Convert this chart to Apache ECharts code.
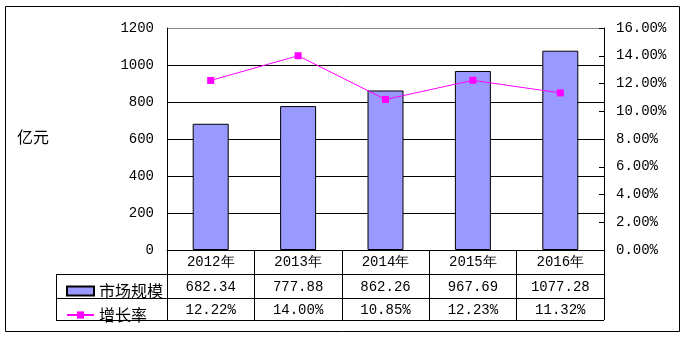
<!DOCTYPE html>
<html><head><meta charset="utf-8">
<script src="https://cdn.jsdelivr.net/npm/echarts@6/dist/echarts.min.js"></script>
<style>html,body{margin:0;padding:0;background:#fff}#c{width:686px;height:338px}</style>
</head><body><div id="c"></div>
<script>
var categories = ['2012年','2013年','2014年','2015年','2016年'];
var marketSize = [682.34, 777.88, 862.26, 967.69, 1077.28];
var growthRate = [12.22, 14.00, 10.85, 12.23, 11.32];
var marketName = '市场规模';
var growthName = '增长率';
var unitName = '亿元';

var MONO = '"Liberation Mono", monospace';
var CJK = '"Noto Sans CJK SC", sans-serif';
var chart = echarts.init(document.getElementById('c'));
var G = {left:167, right:82, top:28, bottom:88};
var tblLeft = 56, tblRight = 604, rowY = [250, 274, 298, 320];

var option = {
  animation:false,
  textStyle:{fontFamily:MONO},
  grid:{left:G.left, right:G.right, top:G.top, bottom:G.bottom},
  legend:{orient:'vertical', left:61, top:278, itemWidth:27, itemHeight:9, itemGap:8,
    textStyle:{fontFamily:CJK, fontSize:16, color:'#000'},
    data:[{name:marketName, icon:'rect'},{name:growthName}]},
  xAxis:{type:'category', data:categories,
    axisLine:{lineStyle:{color:'#000', width:1}},
    axisTick:{show:true, interval:0, length:70, lineStyle:{color:'#000'}},
    axisLabel:{interval:0, margin:5, fontSize:14, color:'#000', fontFamily:MONO}},
  yAxis:[{type:'value', min:0, max:1200, interval:200,
    axisLine:{show:true, lineStyle:{color:'#000'}}, axisTick:{show:false},
    axisLabel:{margin:13, fontSize:14, color:'#000', fontFamily:MONO, formatter:function(v){return String(v);}},
    splitLine:{lineStyle:{color:['#000','#000','#000','#000','#000','#000','#888'], width:1}}},
   {type:'value', min:0, max:16, interval:2, position:'right',
    axisLine:{show:true, lineStyle:{color:'#000'}},
    axisTick:{show:true, inside:true, length:5, lineStyle:{color:'#000'}},
    axisLabel:{margin:12, fontSize:14, color:'#000', fontFamily:MONO, formatter:function(v){return v.toFixed(2)+'%';}},
    splitLine:{show:false}}],
  series:[
   {name:marketName, type:'bar', data:marketSize, barWidth:36,
    itemStyle:{color:'#9999FF', borderColor:'#000', borderWidth:1}},
   {name:growthName, type:'line', yAxisIndex:1, data:growthRate,
    symbol:'rect', symbolSize:7, showSymbol:true,
    lineStyle:{color:'#FF00FF', width:1}, itemStyle:{color:'#FF00FF'}}
  ]
};
chart.setOption(option);

var gr = [];
gr.push({type:'rect', shape:{x:5.5, y:6.5, width:674, height:325}, style:{fill:null, stroke:'#000', lineWidth:1}, z:-1});
gr.push({type:'text', left:17, top:129, style:{text:unitName, font:'16px '+CJK, fill:'#000'}});
for (var r=1; r<rowY.length; r++){
  gr.push({type:'line', shape:{x1:tblLeft, y1:rowY[r]+0.5, x2:tblRight, y2:rowY[r]+0.5}, style:{stroke:'#000', lineWidth:1}});
}
gr.push({type:'line', shape:{x1:tblLeft+0.5, y1:rowY[1], x2:tblLeft+0.5, y2:rowY[3]}, style:{stroke:'#000', lineWidth:1}});
for (var i=0;i<categories.length;i++){
  var px = chart.convertToPixel({xAxisIndex:0}, categories[i]);
  gr.push({type:'text', x:px, y:(rowY[1]+rowY[2])/2+1, style:{text:marketSize[i].toFixed(2), font:'14px '+MONO, fill:'#000', align:'center', verticalAlign:'middle'}});
  gr.push({type:'text', x:px, y:(rowY[2]+rowY[3])/2+1, style:{text:growthRate[i].toFixed(2)+'%', font:'14px '+MONO, fill:'#000', align:'center', verticalAlign:'middle'}});
}
chart.setOption({graphic:gr});
</script></body></html>
